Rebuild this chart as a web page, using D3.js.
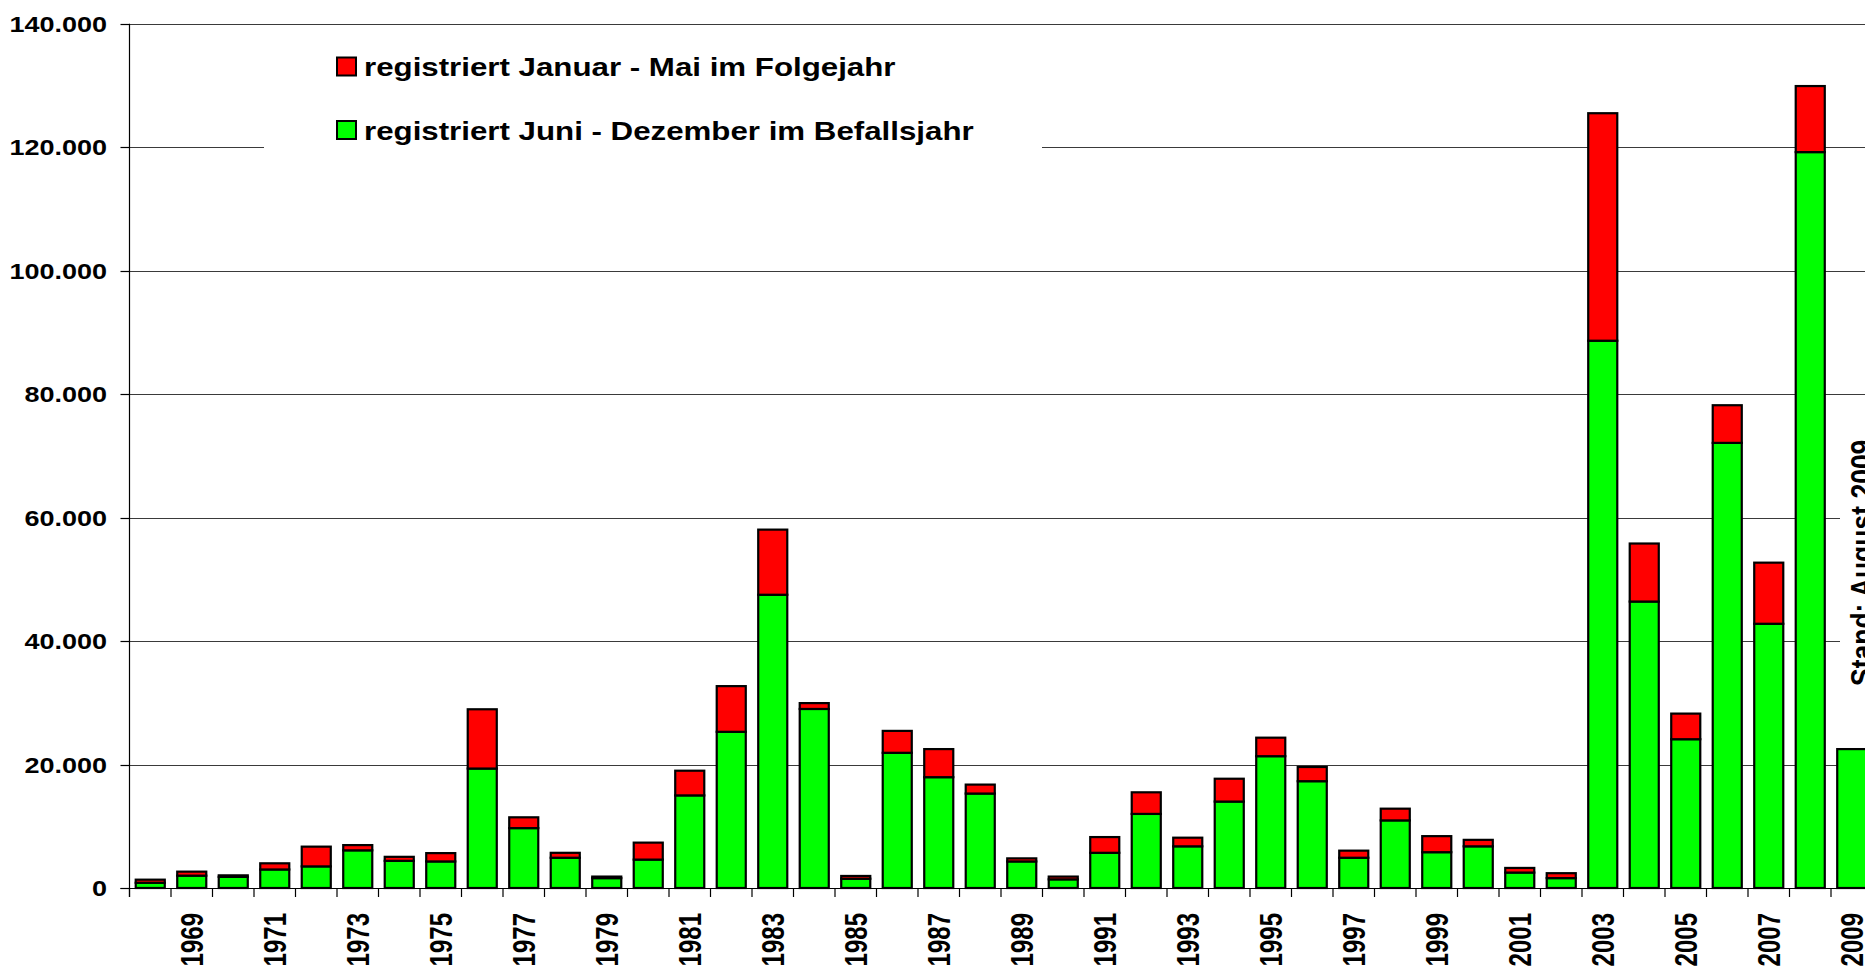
<!DOCTYPE html>
<html>
  <head>
    <meta charset="utf-8" />
    <title>Befall</title>
    <script src="https://cdn.jsdelivr.net/npm/d3@7"></script>
    <style type="text/css">
      body { margin: 0; background: #fff; }
      text { font-family: "Liberation Sans", Arial, sans-serif; font-weight: bold; fill: #000; }
    </style>
  </head>

  <body>
    <svg id="chart" width="1865" height="970"></svg>
    <script type="text/javascript">
      // Jahre 1968 - 2009
      var years = d3.range(1968, 2010);

      // registriert Juni - Dezember im Befallsjahr (gruen)
      var juniDez = [
        850, 2000, 1800, 3000, 3500, 6100, 4400, 4300, 19350, 9700,
        4900, 1600, 4600, 15000, 25300, 47500, 29000, 1500, 21900, 17950,
        15300, 4300, 1400, 5700, 12000, 6750, 14000, 21350, 17300, 4900,
        10950, 5800, 6750, 2500, 1600, 88650, 46400, 24100, 72100, 42800,
        119200, 22500
      ];

      // registriert Januar - Mai im Folgejahr (rot)
      var janMai = [
        500, 650, 250, 1000, 3200, 850, 650, 1350, 9600, 1750,
        800, 250, 2750, 4000, 7400, 10550, 950, 450, 3550, 4550,
        1450, 500, 450, 2550, 3500, 1400, 3700, 3000, 2300, 1150,
        1900, 2600, 1050, 750, 800, 36850, 9400, 4150, 6100, 9900,
        10700, 0
      ];

      var yTicks = [0, 20000, 40000, 60000, 80000, 100000, 120000, 140000];
      var legendLabels = [
        ['registriert Januar - Mai im Folgejahr', '#ff0000'],
        ['registriert Juni - Dezember im Befallsjahr', '#00ff00']
      ];
      var standText = 'Stand: August 2009';

      var svg = d3.select('#chart');
      var plotLeft = 129.5, plotTop = 23.7, plotBottom = 888;
      var step = 41.5;

      var x = d3.scaleBand()
        .domain(years)
        .range([plotLeft, plotLeft + years.length * step])
        .paddingInner(0.3)
        .paddingOuter(0.15);
      var y = d3.scaleLinear().domain([0, 140000]).range([plotBottom, plotTop]);

      var de = d3.formatLocale({ decimal: ',', thousands: '.', grouping: [3], currency: ['', '€'] });
      var fmt = de.format(',');

      // Gitterlinien
      svg.append('g')
        .selectAll('line')
        .data(yTicks.slice(1))
        .enter()
        .append('line')
        .attr('x1', plotLeft)
        .attr('x2', 1865)
        .attr('y1', (d) => Math.round(y(d)) + 0.5)
        .attr('y2', (d) => Math.round(y(d)) + 0.5)
        .attr('stroke', '#3a3a3a')
        .attr('stroke-width', 1.2);

      // gestapelte Saeulen
      var rows = years.map((yr, i) => ({ year: yr, gruen: juniDez[i], rot: janMai[i] }));
      var stack = d3.stack().keys(['gruen', 'rot'])(rows);
      var colors = { gruen: '#00ff00', rot: '#ff0000' };

      svg.append('g')
        .selectAll('g')
        .data(stack)
        .enter()
        .append('g')
        .attr('fill', (s) => colors[s.key])
        .selectAll('rect')
        .data((s) => s.filter((d) => d[1] > d[0]))
        .enter()
        .append('rect')
        .attr('x', (d) => x(d.data.year))
        .attr('width', x.bandwidth())
        .attr('y', (d) => y(d[1]))
        .attr('height', (d) => y(d[0]) - y(d[1]))
        .attr('stroke', '#000')
        .attr('stroke-width', 2.2);

      // Legende (weisser Kasten ueber Gitterlinie)
      svg.append('rect')
        .attr('x', 264).attr('y', 34).attr('width', 778).attr('height', 128)
        .attr('fill', '#fff');

      var lg = svg.append('g')
        .selectAll('g')
        .data(legendLabels)
        .enter()
        .append('g')
        .attr('transform', (d, i) => 'translate(0,' + (i * 63.5) + ')');
      lg.append('rect')
        .attr('x', 337).attr('y', 57.5).attr('width', 19).attr('height', 18)
        .attr('fill', (d) => d[1])
        .attr('stroke', '#000')
        .attr('stroke-width', 2);
      lg.append('text')
        .attr('transform', 'translate(364,76) scale(1.18,1)')
        .style('font-size', '26.5px')
        .text((d) => d[0]);

      // Stand-Hinweis
      svg.append('rect')
        .attr('x', 1840).attr('y', 425).attr('width', 30).attr('height', 280)
        .attr('fill', '#fff');
      svg.append('text')
        .attr('transform', 'translate(1873,686) scale(1.2,1) rotate(-90)')
        .style('font-size', '26.5px')
        .text(standText);

      // y-Achse
      var ya = svg.append('g');
      ya.append('line')
        .attr('x1', plotLeft).attr('x2', plotLeft)
        .attr('y1', plotTop).attr('y2', plotBottom + 9)
        .attr('stroke', '#000').attr('stroke-width', 1.2);
      ya.selectAll('line.tick')
        .data(yTicks)
        .enter()
        .append('line')
        .attr('class', 'tick')
        .attr('x1', plotLeft - 9).attr('x2', plotLeft)
        .attr('y1', (d) => Math.round(y(d)) + 0.5)
        .attr('y2', (d) => Math.round(y(d)) + 0.5)
        .attr('stroke', '#000').attr('stroke-width', 1.2);
      ya.selectAll('text')
        .data(yTicks)
        .enter()
        .append('text')
        .attr('transform', (d) => 'translate(107,' + y(d) + ') scale(1.2,1)')
        .attr('text-anchor', 'end')
        .attr('dy', '0.36em')
        .style('font-size', '22.5px')
        .text((d) => fmt(d));

      // x-Achse
      var xa = svg.append('g');
      xa.append('line')
        .attr('x1', plotLeft - 9).attr('x2', 1865)
        .attr('y1', plotBottom + 0.5).attr('y2', plotBottom + 0.5)
        .attr('stroke', '#000').attr('stroke-width', 1.2);
      xa.selectAll('line.tick')
        .data(years)
        .enter()
        .append('line')
        .attr('class', 'tick')
        .attr('x1', (d) => x(d) - x.step() * x.paddingInner() / 2)
        .attr('x2', (d) => x(d) - x.step() * x.paddingInner() / 2)
        .attr('y1', plotBottom).attr('y2', plotBottom + 9)
        .attr('stroke', '#000').attr('stroke-width', 1.2);
      xa.selectAll('text')
        .data(years.filter((d) => d % 2 === 1))
        .enter()
        .append('text')
        .attr('transform', (d) => 'translate(' + (x(d) + x.bandwidth() / 2) + ',913) scale(1.3,1) rotate(-90)')
        .attr('text-anchor', 'end')
        .attr('dy', '0.36em')
        .style('font-size', '24px')
        .text((d) => d);
    </script>
  </body>
</html>
